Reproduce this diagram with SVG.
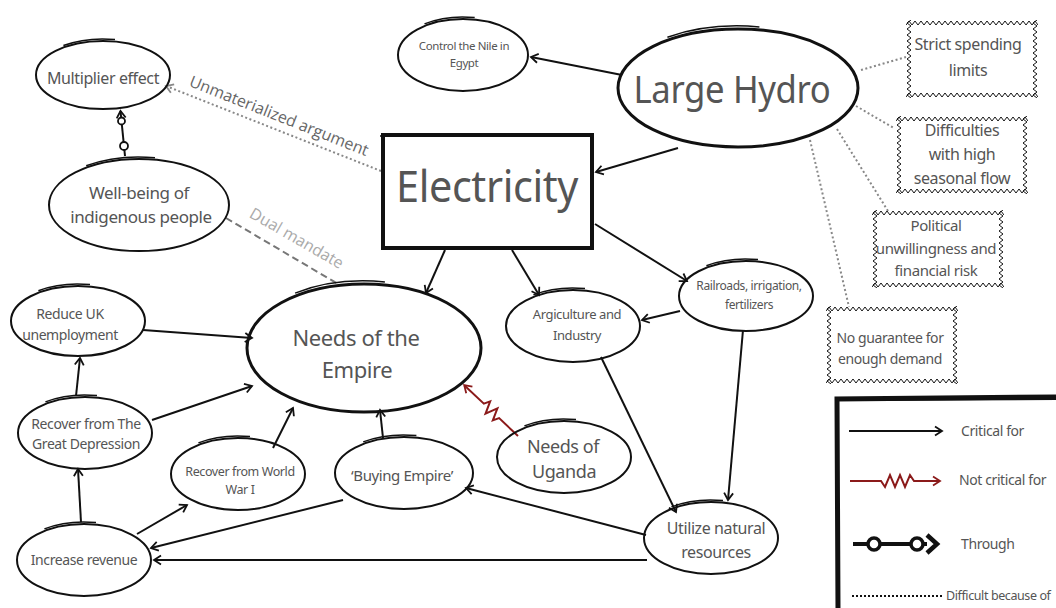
<svg xmlns="http://www.w3.org/2000/svg" width="1056" height="608" viewBox="0 0 1056 608">
<style>
.n{fill:none;stroke:#111;stroke-width:2}
.nb{fill:none;stroke:#111;stroke-width:3}
.sk{fill:none;stroke:#111;stroke-width:1.5}
.t{font-family:"Noto Sans","Open Sans",sans-serif;fill:#555;text-anchor:middle;letter-spacing:-0.4px}
.c{fill:none;stroke:#111;stroke-width:2;marker-end:url(#arr)}
.dot{fill:none;stroke:#888;stroke-width:2;stroke-dasharray:2 2.5}
.lab{font-family:"Open Sans","Noto Sans",sans-serif;fill:#666;font-size:16px;text-anchor:middle}
</style>
<defs>
<marker id="arr" markerUnits="userSpaceOnUse" markerWidth="12" markerHeight="12" refX="9" refY="6" orient="auto"><path d="M2,1.5 L9,6 L2,10.5" fill="none" stroke="#111" stroke-width="1.8"/></marker>
<marker id="arrR" markerUnits="userSpaceOnUse" markerWidth="12" markerHeight="12" refX="9" refY="6" orient="auto"><path d="M2,1.5 L9,6 L2,10.5" fill="none" stroke="#8b1a1a" stroke-width="1.8"/></marker>
<marker id="arrG" markerUnits="userSpaceOnUse" markerWidth="12" markerHeight="12" refX="9" refY="6" orient="auto"><path d="M2,1.5 L9,6 L2,10.5" fill="none" stroke="#888" stroke-width="1.8"/></marker>
<pattern id="hz" patternUnits="userSpaceOnUse" width="6" height="6"><path d="M0,5 L3,1 L6,5" fill="none" stroke="#111" stroke-width="1"/></pattern>
<pattern id="vz" patternUnits="userSpaceOnUse" width="6" height="6"><path d="M5,0 L1,3 L5,6" fill="none" stroke="#111" stroke-width="1"/></pattern>
</defs>
<rect width="1056" height="608" fill="#fff"/>

<g id="connectors">
<path class="c" d="M622,75 L531,57"/>
<path class="c" d="M678,148 L596,172"/>
<path class="c" d="M445,250 L426,293"/>
<path class="c" d="M512,250 L539,295"/>
<path class="c" d="M595,224 L687,281"/>
<path class="c" d="M680,311 L642,320"/>
<path class="c" d="M743,330 L728,500"/>
<path class="c" d="M601,357 L676,512"/>
<path class="c" d="M646,535 L466,488"/>
<path class="c" d="M647,560 L154,560"/>
<path class="c" d="M343,500 L151,548"/>
<path class="c" d="M383,438 L380,410"/>
<path class="c" d="M137,534 L187,505"/>
<path class="c" d="M81,522 L78,469"/>
<path class="c" d="M76,396 L80,358"/>
<path class="c" d="M152,420 L252,386"/>
<path class="c" d="M273,448 L293,408"/>
<path class="c" d="M143,330 L252,338"/>
<g transform="translate(518,436) rotate(223.4)">
<path d="M0,0 L26,0 L29,-6 L34,6 L39,-6 L44,6 L47,0 L74,0" fill="none" stroke="#8b1a1a" stroke-width="2" marker-end="url(#arrR)"/>
</g>
<g id="through">
<path d="M125,156 L120.5,111" fill="none" stroke="#111" stroke-width="2" marker-end="url(#arr)"/>
<circle cx="124" cy="146" r="4" fill="#fff" stroke="#111" stroke-width="1.8"/>
<circle cx="121.5" cy="121" r="3.5" fill="#fff" stroke="#111" stroke-width="1.8"/>
</g>
<path d="M381,171 L166,86" fill="none" stroke="#888" stroke-width="2" stroke-dasharray="2 2.5" marker-end="url(#arrG)"/>
<text class="lab" transform="translate(277,121) rotate(21.6)">Unmaterialized argument</text>
<path d="M226,218 L338,284" fill="none" stroke="#777" stroke-width="2" stroke-dasharray="7 4"/>
<text class="lab" style="fill:#aaa" transform="translate(294,243) rotate(30)">Dual mandate</text>
<path class="dot" d="M861,70 L906,57"/>
<path class="dot" d="M856,106 L894,128"/>
<path class="dot" d="M837,129 L888,211"/>
<path class="dot" d="M810,140 L849,307"/>
</g>

<g id="multiplier">
<ellipse class="n" cx="103" cy="75" rx="67" ry="34"/>
<path class="sk" d="M63.4,45.5 A69,36 0 0 1 115,39.5"/>
<text class="t" x="103" y="84" font-size="16">Multiplier effect</text>
</g>
<g id="wellbeing">
<ellipse class="n" cx="139" cy="205" rx="90" ry="46"/>
<path class="sk" d="M86.2,165.7 A92,48 0 0 1 155,157.7"/>
<text class="t" x="139" y="199" font-size="17">Well-being of</text>
<text class="t" x="141" y="223" font-size="17">indigenous people</text>
</g>
<g id="electricity">
<rect x="383" y="135" width="209" height="113" fill="none" stroke="#111" stroke-width="4"/>
<path d="M380,136 L594,134 M384,247 L592,249" fill="none" stroke="#111" stroke-width="1.5"/>
<text class="t" x="487" y="202" font-size="44" textLength="182" lengthAdjust="spacingAndGlyphs">Electricity</text>
</g>
<g id="nile">
<ellipse class="n" cx="463" cy="55" rx="65" ry="36"/>
<path class="sk" d="M424.5,23.9 A67,38 0 0 1 474.7,17.6"/>
<text class="t" x="464" y="50" font-size="11.5">Control the Nile in</text>
<text class="t" x="464" y="67" font-size="11.5">Egypt</text>
</g>
<g id="hydro">
<ellipse class="nb" cx="738" cy="88" rx="120" ry="59"/>
<path class="sk" d="M667.4,37.2 A123,62 0 0 1 759.4,26.9"/>
<text class="t" x="732" y="103" font-size="38" textLength="197" lengthAdjust="spacingAndGlyphs">Large Hydro</text>
</g>
<g id="empire">
<ellipse class="nb" cx="364" cy="348" rx="117" ry="64"/>
<path class="sk" d="M295.1,293.1 A120,67 0 0 1 384.9,282"/>
<text class="t" x="356" y="346" font-size="22">Needs of the</text>
<text class="t" x="357" y="378" font-size="22">Empire</text>
</g>
<g id="reduce">
<ellipse class="n" cx="78" cy="321" rx="67" ry="35"/>
<path class="sk" d="M38.4,290.7 A69,37 0 0 1 90,284.6"/>
<text class="t" x="70" y="319" font-size="14">Reduce UK</text>
<text class="t" x="70" y="340" font-size="14">unemployment</text>
</g>
<g id="depression">
<ellipse class="n" cx="85" cy="433" rx="67" ry="36"/>
<path class="sk" d="M45.4,401.9 A69,38 0 0 1 97,395.6"/>
<text class="t" x="86" y="429" font-size="14">Recover from The</text>
<text class="t" x="86" y="449" font-size="14">Great Depression</text>
</g>
<g id="ww1">
<ellipse class="n" cx="238" cy="474" rx="67" ry="36"/>
<path class="sk" d="M198.4,442.9 A69,38 0 0 1 250,436.6"/>
<text class="t" x="240" y="476" font-size="12.5">Recover from World</text>
<text class="t" x="240" y="494" font-size="12.5">War I</text>
</g>
<g id="revenue">
<ellipse class="n" cx="84" cy="560" rx="67" ry="36"/>
<path class="sk" d="M44.4,528.9 A69,38 0 0 1 96,522.6"/>
<text class="t" x="84" y="565" font-size="14">Increase revenue</text>
</g>
<g id="buying">
<ellipse class="n" cx="404" cy="473" rx="69" ry="36"/>
<path class="sk" d="M363.2,441.9 A71,38 0 0 1 416.4,435.6"/>
<text class="t" x="402" y="481" font-size="15">‘Buying Empire’</text>
</g>
<g id="uganda">
<ellipse class="n" cx="564" cy="457" rx="67" ry="36"/>
<path class="sk" d="M524.4,425.9 A69,38 0 0 1 576,419.6"/>
<text class="t" x="563" y="453" font-size="18">Needs of</text>
<text class="t" x="564" y="478" font-size="18">Uganda</text>
</g>
<g id="agriculture">
<ellipse class="n" cx="573" cy="326" rx="67" ry="36"/>
<path class="sk" d="M533.4,294.9 A69,38 0 0 1 585,288.6"/>
<text class="t" x="577" y="319" font-size="13">Argiculture and</text>
<text class="t" x="577" y="340" font-size="13">Industry</text>
</g>
<g id="railroads">
<ellipse class="n" cx="746" cy="296" rx="67" ry="35"/>
<path class="sk" d="M706.4,265.7 A69,37 0 0 1 758,259.6"/>
<text class="t" x="749" y="290" font-size="12">Railroads, irrigation,</text>
<text class="t" x="749" y="309" font-size="12">fertilizers</text>
</g>
<g id="utilize">
<ellipse class="n" cx="711" cy="538" rx="67" ry="36"/>
<path class="sk" d="M671.4,506.9 A69,38 0 0 1 723,500.6"/>
<text class="t" x="716" y="534" font-size="16">Utilize natural</text>
<text class="t" x="716" y="558" font-size="16">resources</text>
</g>

<g id="strict" transform="translate(906,20)">
<rect x="0" y="0" width="132" height="6" fill="url(#hz)"/><rect x="0" y="72" width="132" height="6" fill="url(#hz)"/>
<rect x="0" y="0" width="6" height="78" fill="url(#vz)"/><rect x="126" y="0" width="6" height="78" fill="url(#vz)"/>
<text class="t" x="62" y="30" font-size="16">Strict spending</text>
<text class="t" x="62" y="56" font-size="16">limits</text>
</g>
<g id="difficulties" transform="translate(896,116)">
<rect x="0" y="0" width="132" height="6" fill="url(#hz)"/><rect x="0" y="72" width="132" height="6" fill="url(#hz)"/>
<rect x="0" y="0" width="6" height="78" fill="url(#vz)"/><rect x="126" y="0" width="6" height="78" fill="url(#vz)"/>
<text class="t" x="66" y="20" font-size="16">Difficulties</text>
<text class="t" x="66" y="44" font-size="16">with high</text>
<text class="t" x="66" y="68" font-size="16">seasonal flow</text>
</g>
<g id="political" transform="translate(872,210)">
<rect x="0" y="0" width="132" height="6" fill="url(#hz)"/><rect x="0" y="72" width="132" height="6" fill="url(#hz)"/>
<rect x="0" y="0" width="6" height="78" fill="url(#vz)"/><rect x="126" y="0" width="6" height="78" fill="url(#vz)"/>
<text class="t" x="64" y="21" font-size="15">Political</text>
<text class="t" x="64" y="44" font-size="15">unwillingness and</text>
<text class="t" x="64" y="66" font-size="15">financial risk</text>
</g>
<g id="guarantee" transform="translate(826,306)">
<rect x="0" y="0" width="132" height="6" fill="url(#hz)"/><rect x="0" y="72" width="132" height="6" fill="url(#hz)"/>
<rect x="0" y="0" width="6" height="78" fill="url(#vz)"/><rect x="126" y="0" width="6" height="78" fill="url(#vz)"/>
<text class="t" x="64" y="37" font-size="14">No guarantee for</text>
<text class="t" x="64" y="58" font-size="14">enough demand</text>
</g>

<g id="legend">
<path d="M838,608 L837,399 L1056,397" fill="none" stroke="#111" stroke-width="5"/>
<path d="M835,400 L1056,399" fill="none" stroke="#111" stroke-width="2"/>
<path class="c" d="M849,431 L942,431"/>
<text class="t" x="961" y="436" font-size="14" style="text-anchor:start">Critical for</text>
<path d="M850,481 L881,481 L885,487 L890,475 L895,487 L900,475 L905,487 L910,475 L914,481 L940,481" fill="none" stroke="#8b1a1a" stroke-width="2" marker-end="url(#arrR)"/>
<text class="t" x="959" y="485" font-size="14" style="text-anchor:start">Not critical for</text>
<path d="M853,544 L927,544" fill="none" stroke="#111" stroke-width="4"/>
<circle cx="874" cy="544" r="6" fill="#fff" stroke="#111" stroke-width="3.5"/>
<circle cx="917" cy="544" r="6" fill="#fff" stroke="#111" stroke-width="3.5"/>
<path d="M927,535 L937,544 L927,553" fill="none" stroke="#111" stroke-width="4.5"/>
<text class="t" x="961" y="549" font-size="14" style="text-anchor:start">Through</text>
<path d="M852,596 L942,596" fill="none" stroke="#111" stroke-width="2" stroke-dasharray="2 2"/>
<text class="t" x="946" y="600" font-size="12.5" style="text-anchor:start">Difficult because of</text>
</g>
</svg>
